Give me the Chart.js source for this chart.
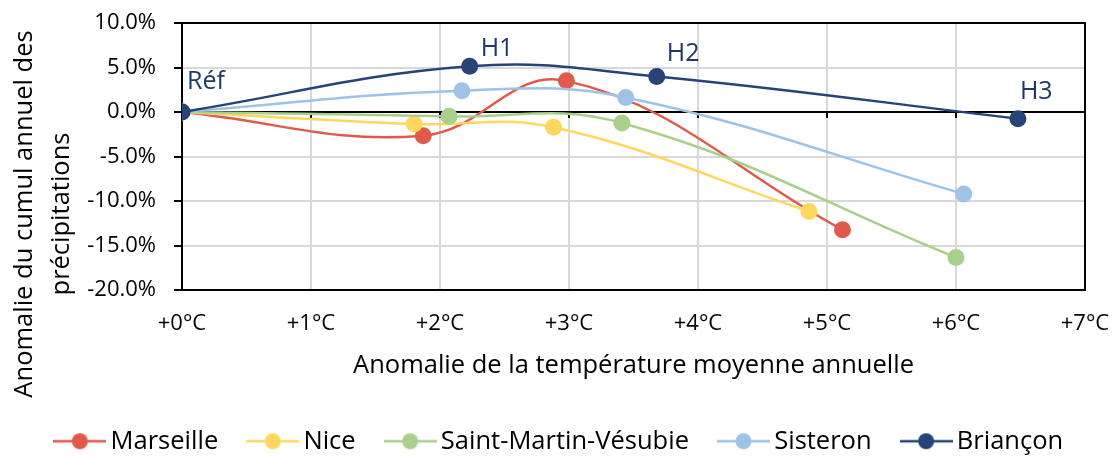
<!DOCTYPE html>
<html>
<head>
<meta charset="utf-8">
<script src="https://cdn.jsdelivr.net/npm/chart.js@4.4.1/dist/chart.umd.min.js"></script>
<style>
  html, body { margin: 0; padding: 0; background: #ffffff; }
  canvas { display: block; }
</style>
</head>
<body>
<canvas id="chart" width="1120" height="457"></canvas>
<script>
// Stations
const stations = ['Marseille', 'Nice', 'Saint-Martin-Vésubie', 'Sisteron', 'Briançon'];

// Temperature anomaly (°C) and annual precipitation anomaly (%) per station: Réf, H1, H2, H3
const marseilleTemp = [0, 1.87, 2.98, 5.12];
const marseillePrecip = [0, -2.66, 3.5, -13.23];
const niceTemp = [0, 1.80, 2.88, 4.86];
const nicePrecip = [0, -1.35, -1.72, -11.17];
const smvTemp = [0, 2.07, 3.41, 6.0];
const smvPrecip = [0, -0.49, -1.23, -16.35];
const sisteronTemp = [0, 2.17, 3.44, 6.06];
const sisteronPrecip = [0, 2.40, 1.64, -9.21];
const brianconTemp = [0, 2.23, 3.68, 6.48];
const brianconPrecip = [0, 5.13, 4.0, -0.75];

// Scenario names shown next to the Briançon points
const scenarioLabels = ['Réf', 'H1', 'H2', 'H3'];

// Axis tick labels
const tempTicks = ['+0°C', '+1°C', '+2°C', '+3°C', '+4°C', '+5°C', '+6°C', '+7°C'];
const precipTicks = ['-20.0%', '-15.0%', '-10.0%', '-5.0%', '0.0%', '5.0%', '10.0%'];

const FONT = '"Open Sans"';
const colors = ['#E0594B', '#FFD75F', '#A8D08C', '#9DC3E6', '#264478'];
const labelColor = '#203864';
const BOTTOM_PAD = -7;
const LEGEND_SHIFT = 20;

function toPoints(xs, ys) {
  return xs.map((x, i) => ({ x: x, y: ys[i] }));
}
const series = [
  toPoints(marseilleTemp, marseillePrecip),
  toPoints(niceTemp, nicePrecip),
  toPoints(smvTemp, smvPrecip),
  toPoints(sisteronTemp, sisteronPrecip),
  toPoints(brianconTemp, brianconPrecip)
];

// Legend symbol: short line with a dot in the middle
function legendSymbol(color) {
  const c = document.createElement('canvas');
  c.width = 53; c.height = 20;
  const g = c.getContext('2d');
  g.strokeStyle = color; g.lineWidth = 2.5;
  g.beginPath(); g.moveTo(0, 10); g.lineTo(53, 10); g.stroke();
  g.fillStyle = color;
  g.beginPath(); g.arc(26.5, 10, 8, 0, Math.PI * 2); g.fill();
  return c;
}
const legendSymbols = colors.map(legendSymbol);

const datasets = stations.map((name, i) => ({
  label: name,
  data: series[i],
  borderColor: colors[i],
  backgroundColor: colors[i],
  pointBackgroundColor: colors[i],
  pointBorderColor: colors[i],
  borderWidth: 2.5,
  pointRadius: 8.5,
  pointBorderWidth: 0,
  tension: 0.4,
  fill: false,
  order: stations.length - i
}));

// Plot frame and the small tick marks along the 0 % line
const framePlugin = {
  id: 'frame',
  beforeDatasetsDraw(chart) {
    const { ctx, chartArea: a, scales: { x, y } } = chart;
    ctx.save();
    ctx.strokeStyle = '#000';
    ctx.lineWidth = 2;
    ctx.strokeRect(a.left, a.top, a.right - a.left, a.bottom - a.top);
    const y0 = y.getPixelForValue(0);
    ctx.beginPath();
    for (let v = 0; v < tempTicks.length; v++) {
      const px = x.getPixelForValue(v);
      ctx.moveTo(px, y0);
      ctx.lineTo(px, y0 + 6);
    }
    ctx.stroke();
    ctx.restore();
  }
};

// Center the legend under the whole figure rather than the padded area
const legendShiftPlugin = {
  id: 'legendShift',
  afterLayout(chart) {
    if (chart.legend) {
      chart.legend.left += LEGEND_SHIFT;
      chart.legend.right += LEGEND_SHIFT;
    }
  }
};

// Scenario names next to the Briançon points
const labelOffsets = [[5, -23], [11, -10], [10, -15], [2, -20]];
const scenarioPlugin = {
  id: 'scenarios',
  afterDatasetsDraw(chart) {
    const meta = chart.getDatasetMeta(stations.length - 1);
    const ctx = chart.ctx;
    ctx.save();
    ctx.fillStyle = labelColor;
    ctx.font = '25px ' + FONT;
    ctx.textAlign = 'left';
    ctx.textBaseline = 'alphabetic';
    meta.data.forEach((pt, i) => {
      ctx.fillText(scenarioLabels[i], pt.x + labelOffsets[i][0], pt.y + labelOffsets[i][1]);
    });
    ctx.restore();
  }
};

// Two-line vertical axis title
const yTitlePlugin = {
  id: 'yTitle',
  afterDraw(chart) {
    const ctx = chart.ctx;
    ctx.save();
    ctx.fillStyle = '#000';
    ctx.font = '25.5px ' + FONT;
    ctx.textAlign = 'center';
    ctx.textBaseline = 'middle';
    const lines = ['Anomalie du cumul annuel des', 'précipitations'];
    const xs = [25, 62];
    lines.forEach((t, i) => {
      ctx.save();
      ctx.translate(xs[i], 214);
      ctx.rotate(-Math.PI / 2);
      ctx.fillText(t, 0, 0);
      ctx.restore();
    });
    ctx.restore();
  }
};

new Chart(document.getElementById('chart'), {
  type: 'line',
  data: { datasets: datasets },
  plugins: [framePlugin, legendShiftPlugin, scenarioPlugin, yTitlePlugin],
  options: {
    responsive: false,
    animation: false,
    devicePixelRatio: 1,
    layout: { padding: { left: 0, right: 35, top: 23, bottom: BOTTOM_PAD } },
    plugins: {
      tooltip: { enabled: false },
      legend: {
        position: 'bottom',
        labels: {
          usePointStyle: true,
          pointStyleWidth: 36,
          padding: 36.5,
          color: '#000',
          font: { family: FONT, size: 25.5 },
          sort: (a, b) => a.datasetIndex - b.datasetIndex,
          generateLabels(chart) {
            const items = Chart.defaults.plugins.legend.labels.generateLabels(chart);
            items.forEach(it => { it.pointStyle = legendSymbols[it.datasetIndex]; });
            return items;
          }
        }
      }
    },
    scales: {
      x: {
        type: 'linear',
        min: 0,
        max: 7,
        ticks: {
          stepSize: 1,
          autoSkip: false,
          maxRotation: 0,
          padding: 21,
          color: '#000',
          font: { family: FONT, size: 22 },
          callback: v => tempTicks[v]
        },
        grid: { color: '#d9d9d9', lineWidth: 2, drawTicks: false },
        border: { color: '#000', width: 2 },
        title: {
          display: true,
          text: 'Anomalie de la température moyenne annuelle',
          color: '#000',
          font: { family: FONT, size: 25.5 },
          padding: { top: 4, bottom: 11 }
        },
        afterFit(scale) {
          const legendH = scale.chart.legend ? scale.chart.legend.height : 0;
          scale.height = scale.chart.height - BOTTOM_PAD - 290 - legendH;
          scale.paddingLeft = 0;
          scale.paddingRight = 0;
        }
      },
      y: {
        min: -20,
        max: 10,
        ticks: {
          stepSize: 5,
          padding: 18,
          color: '#000',
          font: { family: FONT, size: 22 },
          callback: v => precipTicks[(v + 20) / 5]
        },
        grid: {
          color: c => (c.tick && c.tick.value === 0 ? '#000' : '#d9d9d9'),
          lineWidth: 2,
          tickLength: 8,
          tickColor: '#000'
        },
        border: { color: '#000', width: 2 },
        afterFit(scale) {
          scale.width = 182;
          scale.paddingTop = 0;
          scale.paddingBottom = 0;
        }
      }
    }
  }
});
</script>
</body>
</html>
